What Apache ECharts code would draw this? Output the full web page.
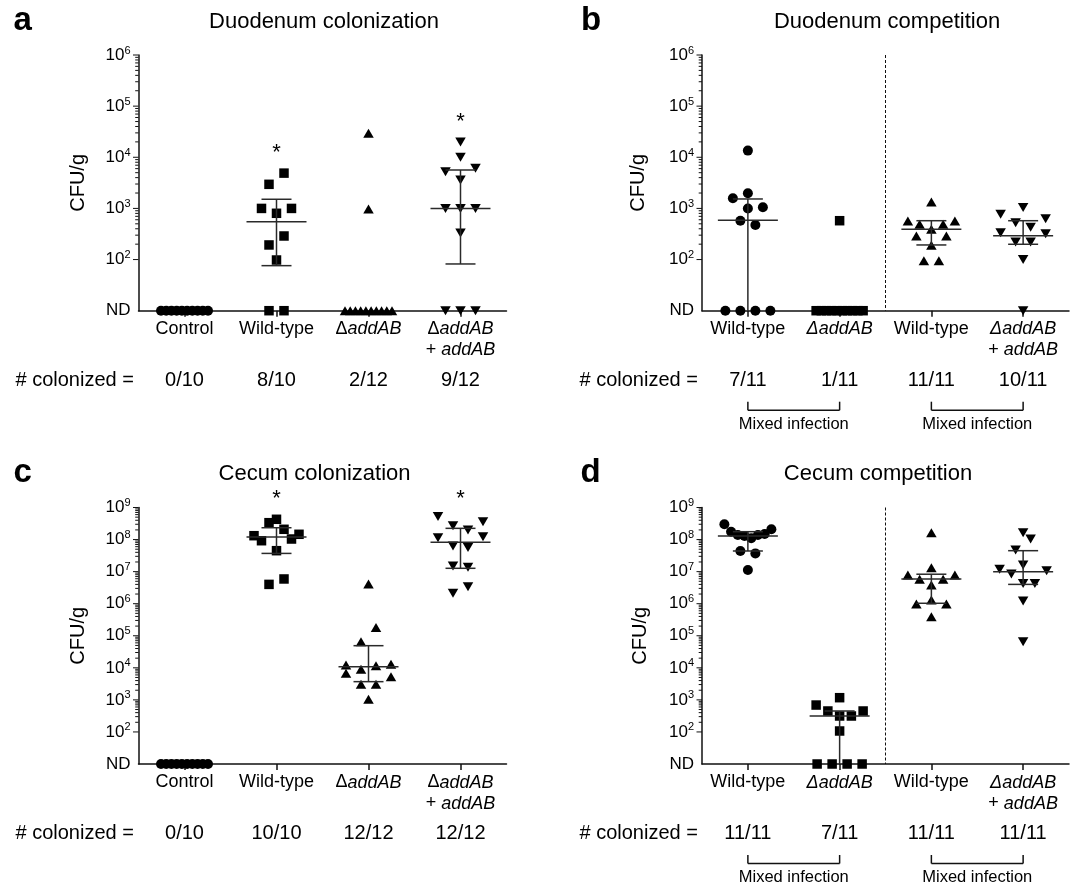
<!DOCTYPE html>
<html><head><meta charset="utf-8">
<script src="https://cdn.jsdelivr.net/npm/echarts@6/dist/echarts.min.js"></script>
<style>html,body{margin:0;padding:0;background:#fff}#c{width:1078px;height:883px}</style>
</head><body><div id="c"></div><script>
// ---------------- data ----------------
const ND = 10; // "not detected" plotted at the bottom of the axis

// a: Duodenum colonization
const catsA = ['Control', 'Wild-type', 'ΔaddAB', 'ΔaddAB\n+ addAB'];
const countsA = ['0/10', '8/10', '2/12', '9/12'];
const aControl = [ND, ND, ND, ND, ND, ND, ND, ND, ND, ND];
const aWT = [ND, ND, 98, 193, 289, 803, 1000, 1000, 2960, 4900];
const aDel = [ND, ND, ND, ND, ND, ND, ND, ND, ND, ND, 975, 29400];
const aComp = [ND, ND, ND, 330, 1000, 1000, 1000, 3600, 5200, 6100, 10000, 20000];
const aMedian = [null, 550, null, 1000];
const aLower = [null, 76, null, 82];
const aUpper = [null, 1510, null, 5640];
const aStars = [null, 15000, null, 62000];

// b: Duodenum competition
const catsB = ['Wild-type', 'ΔaddAB', 'Wild-type', 'ΔaddAB\n+ addAB'];
const countsB = ['7/11', '1/11', '11/11', '10/11'];
const bWT = [ND, ND, ND, ND, 575, 474, 1000, 1580, 1050, 1980, 13500];
const bDel = [ND, ND, ND, ND, ND, ND, ND, ND, ND, ND, 575];
const bWT2 = [95, 95, 190, 290, 290, 390, 490, 490, 570, 570, 1340];
const bComp = [ND, 100, 220, 220, 335, 320, 525, 430, 765, 630, 1040];
const bMedian = [590, null, 391, 293];
const bLower = [ND, null, 193, 199];
const bUpper = [1530, null, 575, 575];

// c: Cecum colonization
const catsC = ['Control', 'Wild-type', 'ΔaddAB', 'ΔaddAB\n+ addAB'];
const countsC = ['0/10', '10/10', '12/12', '12/12'];
const cControl = [ND, ND, ND, ND, ND, ND, ND, ND, ND, ND];
const cWT = [4.0e6, 5.9e6, 4.5e7, 9.2e7, 1.04e8, 3.36e8, 2.09e8, 1.32e8, 1.46e8, 4.29e8];
const cDel = [1040, 3050, 3050, 6800, 5300, 9000, 11600, 12200, 12900, 65000, 180000, 4.1e6];
const cComp = [2.1e6, 3.4e6, 1.5e7, 1.36e7, 6.3e7, 5.7e7, 1.14e8, 1.23e8, 2.7e8, 2.0e8, 5.2e8, 3.6e8];
const cMedian = [null, 1.2e8, 1.08e4, 8.2e7];
const cLower = [null, 3.7e7, 3.7e3, 1.27e7];
const cUpper = [null, 2.34e8, 4.9e4, 2.24e8];
const cStars = [null, 2.6e9, null, 2.6e9];

// d: Cecum competition
const catsD = ['Wild-type', 'ΔaddAB', 'Wild-type', 'ΔaddAB\n+ addAB'];
const countsD = ['11/11', '7/11', '11/11', '11/11'];
const dWT = [1.12e7, 4.4e7, 3.7e7, 1.29e8, 1.1e8, 1.39e8, 1.39e8, 1.76e8, 1.49e8, 3.0e8, 2.1e8];
const dDel = [ND, ND, ND, ND, 107, 314, 450, 314, 690, 450, 1170];
const dWT2 = [3.93e5, 1.3e6, 9.8e5, 9.8e5, 3.83e6, 5.77e6, 5.77e6, 7.85e6, 7.85e6, 1.32e7, 1.64e8];
const dComp = [6.5e4, 1.21e6, 4.3e6, 8.4e6, 4.3e6, 1.18e7, 1.07e7, 1.6e7, 4.7e7, 1.04e8, 1.64e8];
const dMedian = [1.3e8, 314, 5.9e6, 9.95e6];
const dLower = [4.4e7, ND, 1.03e6, 4.0e6];
const dUpper = [1.76e8, 450, 8.3e6, 4.5e7];

// ---------------- layout / style ----------------
const FF = "'Liberation Sans', Arial, Helvetica, sans-serif";
const AX = '#111';
const LINE_C = '#2a2a2a';
const BIN = 14.4, STEP = 15, MAXW = 47;
const MED_HW = 30, CAP_HW = 15;

const GRIDS = [
  {left: 138.5, top: 55, width: 368, height: 255.7, maxExp: 6},
  {left: 702, top: 55, width: 367, height: 255.7, maxExp: 6},
  {left: 138.5, top: 507.5, width: 368, height: 256.5, maxExp: 9},
  {left: 702, top: 507.5, width: 367, height: 256.5, maxExp: 9}
];

const SYM = {
  circle: {symbol: 'circle', size: 10, rot: 0},
  square: {symbol: 'rect', size: 9.5, rot: 0},
  up: {symbol: 'triangle', size: [10.5, 9], rot: 0},
  down: {symbol: 'triangle', size: [10.5, 9], rot: 180}
};

const PANELS = [
  {cats: catsA, counts: countsA, groups: [[aControl, 'circle'], [aWT, 'square'], [aDel, 'up'], [aComp, 'down']],
   med: aMedian, lo: aLower, hi: aUpper, stars: aStars, italDelta: false, split: false,
   title: 'Duodenum colonization', tx: 324, ty: 21.5, letter: 'a', lx: 13.5, ly: 21.3, colX: 15.5, cfuX: 78.5},
  {cats: catsB, counts: countsB, groups: [[bWT, 'circle'], [bDel, 'square'], [bWT2, 'up'], [bComp, 'down']],
   med: bMedian, lo: bLower, hi: bUpper, stars: null, italDelta: true, split: true,
   title: 'Duodenum competition', tx: 887, ty: 21.5, letter: 'b', lx: 581, ly: 21.3, colX: 579.5, cfuX: 638},
  {cats: catsC, counts: countsC, groups: [[cControl, 'circle'], [cWT, 'square'], [cDel, 'up'], [cComp, 'down']],
   med: cMedian, lo: cLower, hi: cUpper, stars: cStars, italDelta: false, split: false,
   title: 'Cecum colonization', tx: 314.5, ty: 473.8, letter: 'c', lx: 13.5, ly: 473.2, colX: 15.5, cfuX: 78.5},
  {cats: catsD, counts: countsD, groups: [[dWT, 'circle'], [dDel, 'square'], [dWT2, 'up'], [dComp, 'down']],
   med: dMedian, lo: dLower, hi: dUpper, stars: null, italDelta: true, split: true,
   title: 'Cecum competition', tx: 878, ty: 473.8, letter: 'd', lx: 580.5, ly: 473.2, colX: 579.5, cfuX: 640}
];

// ---------------- helpers ----------------
function slotOrder(n) {
  const order = [];
  if (n % 2) {
    const m = (n - 1) / 2; order.push(m);
    for (let d = 1; d <= m; d++) order.push(m - d, m + d);
  } else {
    const m = n / 2;
    for (let d = 0; d < m; d++) order.push(m - 1 - d, m + d);
  }
  return order;
}
// Prism-like row swarm: points binned from the bottom up, each row centred
function swarm(values, yOf) {
  const ys = values.map(yOf);
  const idx = values.map((v, i) => i).sort((a, b) => (ys[b] - ys[a]) || (a - b));
  const off = new Array(values.length).fill(0);
  let i = 0;
  while (i < idx.length) {
    const start = ys[idx[i]];
    let j = i;
    while (j < idx.length && start - ys[idx[j]] < BIN) j++;
    const row = idx.slice(i, j).sort((a, b) => a - b);
    const n = row.length;
    const s = n > 1 ? Math.min(STEP, MAXW / (n - 1)) : 0;
    const order = slotOrder(n);
    row.forEach((p, k) => { off[p] = (order[k] - (n - 1) / 2) * s; });
    i = j;
  }
  return off;
}
function catFormatter(italDelta) {
  return v => v.split('\n').map(line => {
    if (line.charAt(0) === 'Δ') return (italDelta ? '{i|Δ}' : '{r|Δ}') + '{i|' + line.slice(1) + '}';
    if (line.indexOf('+ ') === 0) return '{r|+ }{i|' + line.slice(2) + '}';
    return '{r|' + line + '}';
  }).join('\n');
}
function textStyle(text, font, align, valign) {
  return {text: text, font: font, fill: '#000', textAlign: align, textVerticalAlign: valign, align: align, verticalAlign: valign};
}

// ---------------- build option ----------------
const grids = [], xAxes = [], yAxes = [], series = [], graphics = [];

PANELS.forEach((P, p) => {
  const G = GRIDS[p];
  grids.push({left: G.left, top: G.top, width: G.width, height: G.height, containLabel: false, outerBoundsMode: 'none'});
  xAxes.push({
    type: 'category', gridIndex: p, data: P.cats, boundaryGap: true,
    axisLine: {show: true, onZero: false, lineStyle: {color: AX, width: 1.5}},
    axisTick: {show: true, alignWithLabel: true, length: 6, lineStyle: {color: AX, width: 1.5}},
    splitLine: {show: false},
    axisLabel: {
      interval: 0, margin: 8, color: '#000', formatter: catFormatter(P.italDelta),
      rich: {
        r: {fontFamily: FF, fontSize: 18, lineHeight: 21, color: '#000'},
        i: {fontFamily: FF, fontSize: 18, lineHeight: 21, color: '#000', fontStyle: 'italic'}
      }
    }
  });
  yAxes.push({
    type: 'log', logBase: 10, gridIndex: p, min: 10, max: Math.pow(10, G.maxExp), splitNumber: G.maxExp - 1,
    axisLine: {show: true, onZero: false, lineStyle: {color: AX, width: 1.5}},
    axisTick: {show: false}, minorTick: {show: false}, splitLine: {show: false},
    axisLabel: {
      margin: 8, color: '#000',
      formatter: v => { const e = Math.round(Math.log10(v)); return e <= 1 ? '{b|ND}' : '{b|10}{s|' + e + '}'; },
      rich: {
        b: {fontFamily: FF, fontSize: 17, lineHeight: 20, color: '#000'},
        s: {fontFamily: FF, fontSize: 11, lineHeight: 20, verticalAlign: 'top', color: '#000'}
      }
    }
  });

  const lmax = G.maxExp;
  const yOf = v => G.top + (lmax - Math.log10(v)) / (lmax - 1) * G.height;

  // scatter groups
  P.groups.forEach((g, gi) => {
    const vals = g[0], sy = SYM[g[1]];
    const offs = swarm(vals, yOf);
    series.push({
      type: 'scatter', xAxisIndex: p, yAxisIndex: p, clip: false, silent: true, z: 3,
      symbol: sy.symbol, symbolSize: sy.size, symbolRotate: sy.rot,
      itemStyle: {color: '#000', opacity: 1},
      data: vals.map((v, k) => ({value: [gi, v], symbolOffset: [offs[k], 0]}))
    });
  });

  // median + interquartile bars
  const sData = [];
  P.med.forEach((m, i) => { if (m != null) sData.push([i, m, P.lo[i], P.hi[i]]); });
  series.push({
    type: 'custom', xAxisIndex: p, yAxisIndex: p, silent: true, z: 5, data: sData,
    renderItem: (params, api) => {
      const c = api.value(0);
      const pm = api.coord([c, api.value(1)]);
      const pl = api.coord([c, api.value(2)]);
      const ph = api.coord([c, api.value(3)]);
      const st = {stroke: LINE_C, lineWidth: 1.5};
      const ch = [
        {type: 'line', shape: {x1: pm[0] - MED_HW, y1: pm[1], x2: pm[0] + MED_HW, y2: pm[1]}, style: st},
        {type: 'line', shape: {x1: pm[0], y1: pl[1], x2: pm[0], y2: ph[1]}, style: st},
        {type: 'line', shape: {x1: pm[0] - CAP_HW, y1: ph[1], x2: pm[0] + CAP_HW, y2: ph[1]}, style: st}
      ];
      if (api.value(2) > ND) ch.push({type: 'line', shape: {x1: pm[0] - CAP_HW, y1: pl[1], x2: pm[0] + CAP_HW, y2: pl[1]}, style: st});
      return {type: 'group', children: ch};
    }
  });

  // log y-axis ticks (major + minor)
  const tData = [];
  for (let e = 2; e <= lmax; e++) {
    tData.push([0, Math.pow(10, e), 1]);
    if (e < lmax) for (let k = 2; k <= 9; k++) tData.push([0, k * Math.pow(10, e), 0]);
  }
  series.push({
    type: 'custom', xAxisIndex: p, yAxisIndex: p, silent: true, z: 4, data: tData,
    renderItem: (params, api) => {
      const y = api.coord([0, api.value(1)])[1];
      const x0 = params.coordSys.x;
      const len = api.value(2) ? 5.5 : 3.3;
      return {type: 'line', shape: {x1: x0 - len, y1: y, x2: x0, y2: y}, style: {stroke: AX, lineWidth: 1}};
    }
  });

  // "# colonized" counts under each category
  series.push({
    type: 'custom', xAxisIndex: p, yAxisIndex: p, silent: true, z: 4,
    data: P.counts.map((c, i) => [i, ND]),
    renderItem: (params, api) => {
      const x = api.coord([api.value(0), ND])[0];
      const y = params.coordSys.y + params.coordSys.height + 69.3;
      return {type: 'text', x: x, y: y, style: textStyle(P.counts[params.dataIndex], '20px ' + FF, 'center', 'middle')};
    }
  });

  // significance stars
  if (P.stars) {
    const stData = [];
    P.stars.forEach((s, i) => { if (s != null) stData.push([i, s]); });
    series.push({
      type: 'custom', xAxisIndex: p, yAxisIndex: p, silent: true, z: 4, data: stData,
      renderItem: (params, api) => {
        const pt = api.coord([api.value(0), api.value(1)]);
        return {type: 'text', x: pt[0], y: pt[1] + 5, style: textStyle('*', '22px ' + FF, 'center', 'middle')};
      }
    });
  }

  // dashed separator + mixed-infection brackets
  if (P.split) {
    series.push({
      type: 'custom', xAxisIndex: p, yAxisIndex: p, silent: true, z: 4, data: [[1, ND]],
      renderItem: (params, api) => {
        const x = (api.coord([1, ND])[0] + api.coord([2, ND])[0]) / 2;
        const cs = params.coordSys;
        return {type: 'line', shape: {x1: x, y1: cs.y, x2: x, y2: cs.y + cs.height},
                style: {stroke: AX, lineWidth: 1, lineDash: [3, 2]}};
      }
    });
    series.push({
      type: 'custom', xAxisIndex: p, yAxisIndex: p, silent: true, z: 4,
      dimensions: ['x', 'y', 'x2'], encode: {x: 0, y: 1},
      data: [[0, ND, 1], [2, ND, 3]],
      renderItem: (params, api) => {
        const x1 = api.coord([api.value(0), ND])[0];
        const x2 = api.coord([api.value(2), ND])[0];
        const yb = params.coordSys.y + params.coordSys.height;
        const st = {stroke: AX, lineWidth: 1.5};
        return {type: 'group', children: [
          {type: 'line', shape: {x1: x1, y1: yb + 91, x2: x1, y2: yb + 99.5}, style: st},
          {type: 'line', shape: {x1: x2, y1: yb + 91, x2: x2, y2: yb + 99.5}, style: st},
          {type: 'line', shape: {x1: x1, y1: yb + 99.5, x2: x2, y2: yb + 99.5}, style: st},
          {type: 'text', x: (x1 + x2) / 2, y: yb + 113.5, style: textStyle('Mixed infection', '16.5px ' + FF, 'center', 'middle')}
        ]};
      }
    });
  }

  // static texts
  graphics.push({type: 'text', x: P.tx, y: P.ty, silent: true, style: textStyle(P.title, '22px ' + FF, 'center', 'middle')});
  graphics.push({type: 'text', x: P.lx, y: P.ly, silent: true, style: textStyle(P.letter, 'bold 33px ' + FF, 'left', 'middle')});
  graphics.push({type: 'text', x: P.colX, y: G.top + G.height + 69.3, silent: true, style: textStyle('# colonized =', '20px ' + FF, 'left', 'middle')});
  graphics.push({type: 'text', x: P.cfuX, y: G.top + G.height / 2, rotation: Math.PI / 2, silent: true, style: textStyle('CFU/g', '20px ' + FF, 'center', 'middle')});
});

const chart = echarts.init(document.getElementById('c'), null, {renderer: 'canvas'});
chart.setOption({
  backgroundColor: '#fff',
  animation: false,
  textStyle: {fontFamily: FF},
  grid: grids, xAxis: xAxes, yAxis: yAxes, series: series,
  graphic: {elements: graphics}
});
</script></body></html>
